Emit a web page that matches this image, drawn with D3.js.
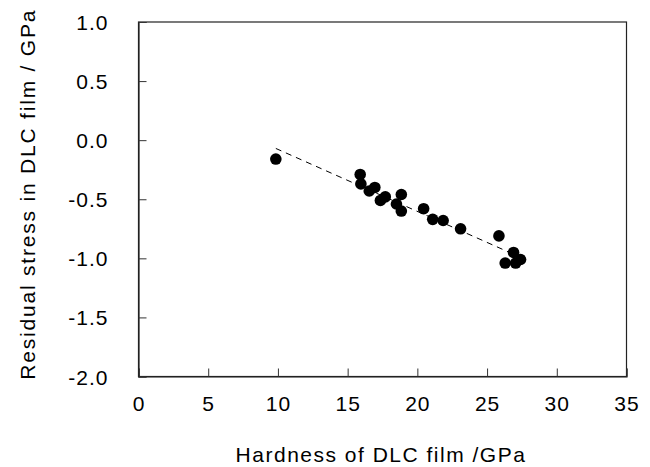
<!DOCTYPE html>
<html><head><meta charset="utf-8">
<script src="https://cdn.jsdelivr.net/npm/d3@7"></script>
<style>
body{margin:0;background:#fff;}
text{font-family:"Liberation Sans",Arial,sans-serif;fill:#000;}
</style></head>
<body><svg id="c" width="650" height="467"></svg>
<script>
const hardness = [9.85, 15.9, 15.95, 16.55, 16.95, 17.35, 17.7, 18.5, 18.85, 18.85, 20.45, 21.1, 21.85, 23.1, 25.85, 26.9, 26.3, 27.05, 27.4];
const stress   = [-0.16, -0.29, -0.37, -0.43, -0.40, -0.51, -0.48, -0.54, -0.46, -0.60, -0.58, -0.67, -0.68, -0.75, -0.81, -0.95, -1.04, -1.04, -1.01];
const trendX = [9.85, 26.8];
const trendY = [-0.07, -0.96];
const xTicks = [0, 5, 10, 15, 20, 25, 30, 35];
const yTicks = [1.0, 0.5, 0.0, -0.5, -1.0, -1.5, -2.0];
const xTitle = "Hardness of DLC film /GPa";
const yTitle = "Residual stress in DLC film / GPa";

const svg = d3.select("#c");
const L = 138.5, R = 626.5, T = 22, B = 376.5;
const x = d3.scaleLinear().domain([0, 35]).range([L, R]);
const y = d3.scaleLinear().domain([-2, 1]).range([B, T]);

// frame
svg.append("rect").attr("x", L).attr("y", T).attr("width", R - L).attr("height", B - T)
  .attr("fill", "none").attr("stroke", "#222").attr("stroke-width", 1.2);

const yFmt = d => d.toFixed(1);
// axes with inward ticks
const xa = svg.append("g").attr("transform", `translate(0,${B})`)
  .call(d3.axisBottom(x).tickValues(xTicks).tickSize(-8).tickPadding(20).tickFormat(d => String(d)));
const ya = svg.append("g").attr("transform", `translate(${L},0)`)
  .call(d3.axisLeft(y).tickValues(yTicks).tickSize(-8).tickPadding(30).tickFormat(yFmt));
[xa, ya].forEach(g => {
  g.select(".domain").attr("stroke", "#222").attr("stroke-width", 1.2);
  g.selectAll(".tick line").attr("stroke", "#333").attr("stroke-width", 1);
  g.selectAll(".tick text").attr("font-size", 21).attr("font-family", "Liberation Sans, Arial, sans-serif").attr("fill", "#000").attr("letter-spacing", 1);
});
ya.selectAll(".tick text").attr("dy", "0.36em");
xa.selectAll(".tick text").attr("dy", "0.71em");

// trend line
svg.append("line")
  .attr("x1", x(trendX[0])).attr("y1", y(trendY[0]))
  .attr("x2", x(trendX[1])).attr("y2", y(trendY[1]))
  .attr("stroke", "#000").attr("stroke-width", 1).attr("stroke-dasharray", "6,5");

// points
svg.append("g").selectAll("circle").data(hardness.map((h, i) => [h, stress[i]]))
  .join("circle").attr("cx", d => x(d[0])).attr("cy", d => y(d[1])).attr("r", 5.8).attr("fill", "#000");

// titles
svg.append("text").attr("x", 381).attr("y", 462).attr("text-anchor", "middle")
  .attr("font-size", 21).attr("letter-spacing", 1.5).text(xTitle);
svg.append("text").attr("transform", `translate(35,${(T + B) / 2 - 5}) rotate(-90)`).attr("text-anchor", "middle")
  .attr("font-size", 21).attr("letter-spacing", 1.8).text(yTitle);
</script></body></html>
